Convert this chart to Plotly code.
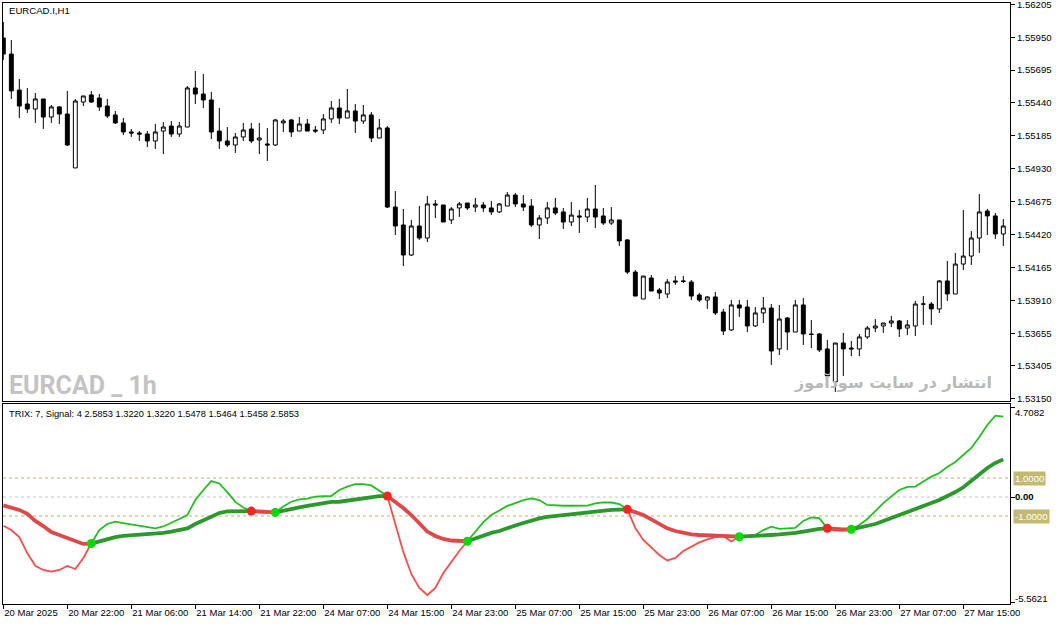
import plotly.graph_objects as go

# ---------------- data ----------------
tick_bars = [0, 8, 16, 24, 32, 40, 48, 56, 64, 72, 80, 88, 96, 104, 112, 120]
tick_labels = ["20 Mar 2025", "20 Mar 22:00", "21 Mar 06:00", "21 Mar 14:00", "21 Mar 22:00",
               "24 Mar 07:00", "24 Mar 15:00", "24 Mar 23:00", "25 Mar 07:00", "25 Mar 15:00",
               "25 Mar 23:00", "26 Mar 07:00", "26 Mar 15:00", "26 Mar 23:00", "27 Mar 07:00",
               "27 Mar 15:00"]

price_ticks = [1.56205, 1.55950, 1.55695, 1.55440, 1.55185, 1.54930, 1.54675, 1.54420,
               1.54165, 1.53910, 1.53655, 1.53405, 1.53150]
price_labels = ["%.5f" % v for v in price_ticks]

opens = [
    1.55943, 1.55819, 1.55540, 1.55432, 1.55393, 1.55471, 1.55331, 1.55409, 1.55354, 1.54936,
    1.55447, 1.55502, 1.55478, 1.55416, 1.55347, 1.55285, 1.55215, 1.55207, 1.55199, 1.55145,
    1.55222, 1.55261, 1.55199, 1.55253, 1.55556, 1.55509, 1.55463, 1.55222, 1.55145, 1.55114,
    1.55176, 1.55238, 1.55153, 1.55122, 1.55114, 1.55285, 1.55308, 1.55222, 1.55277, 1.55230,
    1.55230, 1.55316, 1.55401, 1.55323, 1.55378, 1.55300, 1.55347, 1.55168, 1.55246, 1.54633,
    1.54494, 1.54261, 1.54486, 1.54393, 1.54657, 1.54649, 1.54533, 1.54626, 1.54664, 1.54633,
    1.54649, 1.54626, 1.54595, 1.54641, 1.54726, 1.54657, 1.54641, 1.54494, 1.54548, 1.54626,
    1.54595, 1.54517, 1.54564, 1.54556, 1.54618, 1.54564, 1.54509, 1.54533, 1.54378, 1.54129,
    1.53920, 1.54083, 1.53990, 1.53959, 1.54060, 1.54060, 1.54052, 1.53951, 1.53912, 1.53936,
    1.53819, 1.53680, 1.53874, 1.53858, 1.53711, 1.53812, 1.53850, 1.53533, 1.53773, 1.53664,
    1.53874, 1.53649, 1.53649, 1.53533, 1.53277, 1.53579, 1.53540, 1.53533, 1.53626, 1.53695,
    1.53711, 1.53734, 1.53750, 1.53695, 1.53711, 1.53881, 1.53881, 1.53843, 1.54060, 1.53959,
    1.54191, 1.54253, 1.54393, 1.54602, 1.54564, 1.54424]

highs = [
    1.56067, 1.55928, 1.55626, 1.55556, 1.55517, 1.55471, 1.55424, 1.55416, 1.55533, 1.55471,
    1.55494, 1.55533, 1.55509, 1.55471, 1.55378, 1.55323, 1.55238, 1.55222, 1.55222, 1.55277,
    1.55292, 1.55300, 1.55292, 1.55571, 1.55688, 1.55664, 1.55525, 1.55401, 1.55253, 1.55207,
    1.55285, 1.55285, 1.55285, 1.55246, 1.55316, 1.55316, 1.55316, 1.55331, 1.55316, 1.55261,
    1.55354, 1.55455, 1.55471, 1.55548, 1.55432, 1.55424, 1.55370, 1.55316, 1.55261, 1.54757,
    1.54618, 1.54533, 1.54641, 1.54719, 1.54688, 1.54649, 1.54633, 1.54672, 1.54664, 1.54703,
    1.54672, 1.54680, 1.54664, 1.54750, 1.54742, 1.54726, 1.54695, 1.54571, 1.54672, 1.54703,
    1.54626, 1.54672, 1.54610, 1.54703, 1.54804, 1.54626, 1.54633, 1.54533, 1.54385, 1.54145,
    1.54098, 1.54106, 1.54005, 1.54075, 1.54098, 1.54098, 1.54067, 1.53967, 1.53943, 1.53974,
    1.53843, 1.53912, 1.53912, 1.53912, 1.53858, 1.53936, 1.53881, 1.53874, 1.53781, 1.53912,
    1.53928, 1.53757, 1.53657, 1.53602, 1.53579, 1.53657, 1.53595, 1.53649, 1.53711, 1.53765,
    1.53734, 1.53788, 1.53757, 1.53757, 1.53905, 1.53943, 1.53897, 1.54067, 1.54215, 1.54277,
    1.54610, 1.54447, 1.54734, 1.54618, 1.54587, 1.54540]

lows = [
    1.55773, 1.55471, 1.55323, 1.55362, 1.55285, 1.55238, 1.55285, 1.55277, 1.55106, 1.54936,
    1.55416, 1.55440, 1.55378, 1.55323, 1.55277, 1.55191, 1.55176, 1.55145, 1.55098, 1.55083,
    1.55044, 1.55176, 1.55176, 1.55253, 1.55432, 1.55401, 1.55160, 1.55083, 1.55098, 1.55052,
    1.55145, 1.55129, 1.55044, 1.54990, 1.55106, 1.55215, 1.55176, 1.55222, 1.55222, 1.55207,
    1.55199, 1.55285, 1.55277, 1.55323, 1.55207, 1.55277, 1.55137, 1.55168, 1.54626, 1.54416,
    1.54176, 1.54253, 1.54378, 1.54362, 1.54548, 1.54517, 1.54502, 1.54556, 1.54610, 1.54595,
    1.54595, 1.54571, 1.54587, 1.54641, 1.54633, 1.54602, 1.54478, 1.54385, 1.54502, 1.54571,
    1.54463, 1.54486, 1.54432, 1.54517, 1.54471, 1.54494, 1.54494, 1.54331, 1.54114, 1.53943,
    1.53920, 1.53982, 1.53920, 1.53928, 1.54029, 1.54044, 1.53912, 1.53897, 1.53843, 1.53796,
    1.53641, 1.53672, 1.53781, 1.53664, 1.53703, 1.53734, 1.53409, 1.53486, 1.53525, 1.53664,
    1.53564, 1.53540, 1.53509, 1.53323, 1.53199, 1.53323, 1.53478, 1.53478, 1.53610, 1.53664,
    1.53657, 1.53703, 1.53626, 1.53641, 1.53633, 1.53719, 1.53719, 1.53812, 1.53905, 1.53959,
    1.54145, 1.54184, 1.54277, 1.54416, 1.54385, 1.54331]

closes = [
    1.55819, 1.55533, 1.55416, 1.55393, 1.55471, 1.55331, 1.55409, 1.55354, 1.55114, 1.55455,
    1.55494, 1.55447, 1.55409, 1.55339, 1.55285, 1.55215, 1.55207, 1.55199, 1.55145, 1.55215,
    1.55253, 1.55199, 1.55261, 1.55556, 1.55509, 1.55463, 1.55215, 1.55145, 1.55114, 1.55176,
    1.55230, 1.55145, 1.55168, 1.55114, 1.55308, 1.55300, 1.55215, 1.55277, 1.55222, 1.55222,
    1.55316, 1.55401, 1.55323, 1.55378, 1.55300, 1.55347, 1.55168, 1.55246, 1.54633, 1.54486,
    1.54261, 1.54486, 1.54393, 1.54657, 1.54649, 1.54517, 1.54618, 1.54657, 1.54626, 1.54649,
    1.54626, 1.54595, 1.54657, 1.54726, 1.54657, 1.54633, 1.54494, 1.54548, 1.54626, 1.54587,
    1.54517, 1.54571, 1.54556, 1.54618, 1.54556, 1.54509, 1.54533, 1.54370, 1.54129, 1.53943,
    1.54098, 1.53982, 1.53967, 1.54052, 1.54052, 1.54057, 1.53943, 1.53912, 1.53936, 1.53812,
    1.53672, 1.53874, 1.53850, 1.53711, 1.53812, 1.53850, 1.53517, 1.53765, 1.53664, 1.53874,
    1.53649, 1.53645, 1.53525, 1.53323, 1.53579, 1.53533, 1.53533, 1.53626, 1.53695, 1.53711,
    1.53734, 1.53750, 1.53688, 1.53719, 1.53881, 1.53881, 1.53843, 1.54060, 1.53959, 1.54191,
    1.54253, 1.54393, 1.54595, 1.54564, 1.54424, 1.54486]

trix = [
    -1.51, -1.74, -2.11, -2.95, -3.62, -3.84, -3.93, -3.84, -3.63, -3.79,
    -3.21, -2.45, -1.74, -1.42, -1.30, -1.37, -1.44, -1.50, -1.58, -1.65,
    -1.55, -1.37, -1.16, -0.95, -0.16, 0.37, 0.84, 0.71, 0.26, -0.26,
    -0.55, -0.74, -0.82, -0.82, -0.81, -0.50, -0.25, -0.13, -0.08, 0.02,
    0.04, 0.05, 0.37, 0.55, 0.68, 0.68, 0.61, 0.32, 0.05, -1.47,
    -2.89, -4.05, -4.79, -5.16, -4.79, -4.00, -3.42, -2.84, -2.33, -1.84,
    -1.32, -0.95, -0.71, -0.47, -0.32, -0.16, -0.07, -0.16, -0.42, -0.45,
    -0.46, -0.46, -0.47, -0.45, -0.34, -0.28, -0.29, -0.37, -0.65, -1.63,
    -2.26, -2.63, -3.05, -3.34, -3.21, -2.84, -2.61, -2.39, -2.23, -2.11,
    -2.05, -2.34, -2.09, -2.03, -2.00, -1.74, -1.56, -1.68, -1.66, -1.62,
    -1.26, -1.08, -1.11, -1.65, -1.77, -1.77, -1.70, -1.47, -1.16, -0.74,
    -0.32, 0.03, 0.37, 0.53, 0.55, 0.82, 1.07, 1.26, 1.58, 1.84,
    2.21, 2.58, 3.16, 3.79, 4.28, 4.23]

signal = [
    -0.44, -0.55, -0.68, -0.89, -1.26, -1.53, -1.84, -2.00, -2.16, -2.32,
    -2.47, -2.45, -2.34, -2.21, -2.11, -2.05, -2.02, -2.00, -1.97, -1.95,
    -1.89, -1.82, -1.74, -1.65, -1.42, -1.21, -1.00, -0.84, -0.76, -0.74,
    -0.74, -0.74, -0.77, -0.81, -0.81, -0.71, -0.63, -0.55, -0.47, -0.39,
    -0.32, -0.26, -0.25, -0.18, -0.13, -0.05, 0.03, 0.05, 0.05, -0.26,
    -0.58, -0.95, -1.37, -1.82, -2.05, -2.21, -2.29, -2.32, -2.33, -2.18,
    -2.03, -1.89, -1.79, -1.63, -1.50, -1.37, -1.24, -1.13, -1.05, -1.00,
    -0.95, -0.91, -0.86, -0.79, -0.74, -0.70, -0.68, -0.66, -0.65, -0.79,
    -0.95, -1.18, -1.42, -1.65, -1.79, -1.89, -1.97, -2.00, -2.02, -2.02,
    -2.03, -2.08, -2.09, -2.08, -2.05, -2.03, -2.00, -1.97, -1.95, -1.89,
    -1.82, -1.74, -1.68, -1.65, -1.70, -1.71, -1.70, -1.61, -1.50, -1.42,
    -1.26, -1.11, -0.97, -0.82, -0.63, -0.50, -0.32, -0.16, 0.03, 0.26,
    0.51, 0.84, 1.21, 1.53, 1.79, 1.98]

bull_cross = [11, 34, 58, 92, 106]
bear_cross = [31, 48, 78, 103]
levels = [1.0, -1.0]

# ---------------- figure ----------------
N = len(closes)
bars = list(range(N))
W, H = 1056, 625
ML, MR, MT, MB = 3, 46, 3, 21
PW, PH = W - ML - MR, H - MT - MB

def px_x(p):
    return (p - ML) / PW

def px_y(p):
    return (H - MB - p) / PH

FONT = "Liberation Sans"
thin_col = {"bear": "#ff4b4b", "bull": "#22bf22"}
thick_col = {"bear": "#df4848", "bull": "#2b992b"}

fig = go.Figure()

fig.add_trace(go.Candlestick(
    x=bars, open=opens, high=highs, low=lows, close=closes,
    increasing=dict(line=dict(color="black", width=1), fillcolor="white"),
    decreasing=dict(line=dict(color="black", width=1), fillcolor="black"),
    whiskerwidth=0, xaxis="x", yaxis="y", hoverinfo="skip"))

events = sorted([(i, "bull") for i in bull_cross] + [(i, "bear") for i in bear_cross])
starts = [0] + [e[0] for e in events]
ends = [e[0] for e in events] + [N - 1]
states = ["bear"] + [e[1] for e in events]

for s, e, st in zip(starts, ends, states):
    fig.add_trace(go.Scatter(x=bars[s:e + 1], y=trix[s:e + 1], mode="lines",
                             line=dict(color=thin_col[st], width=1.8),
                             xaxis="x2", yaxis="y2", hoverinfo="skip"))
for s, e, st in zip(starts, ends, states):
    fig.add_trace(go.Scatter(x=bars[s:e + 1], y=signal[s:e + 1], mode="lines",
                             line=dict(color=thick_col[st], width=3.8),
                             xaxis="x2", yaxis="y2", hoverinfo="skip"))

fig.add_trace(go.Scatter(x=bull_cross, y=[signal[i] for i in bull_cross], mode="markers",
                         marker=dict(color="#00dc00", size=9), xaxis="x2", yaxis="y2",
                         hoverinfo="skip"))
fig.add_trace(go.Scatter(x=bear_cross, y=[signal[i] for i in bear_cross], mode="markers",
                         marker=dict(color="#ff2424", size=9), xaxis="x2", yaxis="y2",
                         hoverinfo="skip"))

xr = [-0.04, -0.04 + PW / 8.0]
main_dom = [px_y(401), 1.0]
ind_dom = [0.0, px_y(404)]

fig.update_layout(
    width=W, height=H, margin=dict(l=ML, r=MR, t=MT, b=MB, autoexpand=False),
    paper_bgcolor="white", plot_bgcolor="white", showlegend=False,
    xaxis=dict(domain=[0, 1], range=xr, anchor="y", showticklabels=False, showgrid=False,
               zeroline=False, showline=True, mirror=True, linecolor="black", linewidth=1,
               ticks="", rangeslider=dict(visible=False), fixedrange=True),
    yaxis=dict(domain=main_dom, range=[1.531294, 1.562147], side="right", anchor="x",
               tickvals=price_ticks, ticktext=price_labels, ticks="outside", ticklen=4,
               tickcolor="black", showline=True, mirror=True, linecolor="black",
               showgrid=False, zeroline=False, automargin=False, ticklabeloverflow="allow",
               tickfont=dict(family=FONT, size=9.6, color="black")),
    xaxis2=dict(domain=[0, 1], range=xr, anchor="y2", tickvals=tick_bars, ticktext=tick_labels,
                ticks="outside", ticklen=4, tickcolor="black", ticklabelposition="outside right",
                tickangle=0, automargin=False, ticklabeloverflow="allow",
                showline=True, mirror=True, linecolor="black", showgrid=False, zeroline=False,
                tickfont=dict(family=FONT, size=9.5, color="black")),
    yaxis2=dict(domain=ind_dom, range=[-5.632, 4.895], side="right", anchor="x2",
                tickvals=[4.7082, 0, -5.5621], ticks="outside", ticklen=4, tickcolor="black",
                showticklabels=False, showline=True, mirror=True, linecolor="black",
                showgrid=False, zeroline=False),
)

for lv in levels:
    fig.add_shape(type="line", xref="x2 domain", yref="y2", x0=0, x1=1, y0=lv, y1=lv,
                  line=dict(color="#bdb56c", width=1, dash="3px,3px"), layer="below")
fig.add_shape(type="line", xref="x2 domain", yref="y2", x0=0, x1=1, y0=0, y1=0,
              line=dict(color="#c4c4c4", width=1, dash="3px,3px"), layer="below")

ann = []
ann.append(dict(text="EURCAD.I,H1", x=px_x(7), y=px_y(11), xanchor="left", yanchor="middle",
                font=dict(family=FONT, size=9.6, color="black")))
ann.append(dict(text="TRIX: 7, Signal: 4 2.5853 1.3220 1.3220 1.5478 1.5464 1.5458 2.5853",
                x=px_x(7), y=px_y(414), xanchor="left", yanchor="middle",
                font=dict(family=FONT, size=9.3, color="black")))
ann.append(dict(text="<b>EURCAD _ 1h</b>", x=px_x(7), y=px_y(385), xanchor="left",
                yanchor="middle",
                font=dict(family="Roboto", size=25, color="#c3c3c3")))
ann.append(dict(text="<b>انتشار در سایت سودآموز</b>", x=px_x(994), y=px_y(382),
                xanchor="right", yanchor="middle",
                font=dict(family="DejaVu Sans", size=16, color="#b9b9b9")))
ax = px_x(1013)
ann.append(dict(text="4.7082", x=ax, y=px_y(412), xanchor="left", yanchor="middle",
                font=dict(family=FONT, size=9.6, color="black")))
ann.append(dict(text="-5.5621", x=ax, y=px_y(598), xanchor="left", yanchor="middle",
                font=dict(family=FONT, size=9.6, color="black")))
ann.append(dict(text="<b>0.00</b>", x=ax, y=px_y(497), xanchor="left", yanchor="middle",
                font=dict(family=FONT, size=9.6, color="black")))
ann.append(dict(text="1.0000", x=ax, y=px_y(478), xanchor="left", yanchor="middle",
                bgcolor="#c2ba72", borderpad=1,
                font=dict(family=FONT, size=9.6, color="white")))
ann.append(dict(text="-1.0000", x=ax, y=px_y(516), xanchor="left", yanchor="middle",
                bgcolor="#c2ba72", borderpad=1,
                font=dict(family=FONT, size=9.6, color="white")))
for a in ann:
    a.update(xref="paper", yref="paper", showarrow=False)
fig.update_layout(annotations=ann)

fig.write_html("out.html", config={"displayModeBar": False},
               post_script="document.body.style.margin='0px';document.body.style.overflow='hidden';")
